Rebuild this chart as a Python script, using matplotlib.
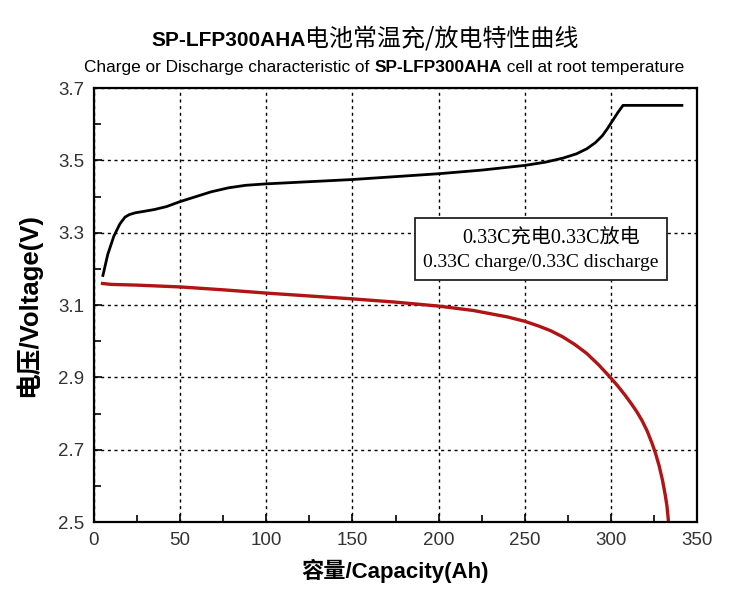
import matplotlib.pyplot as plt
from matplotlib.patches import Rectangle
from matplotlib.ticker import MultipleLocator

# charge curve (0.33C)
charge_cap = [5, 8, 11.5, 15, 18, 20.5, 24, 29, 35, 42, 50, 58, 68, 78, 88, 100,
              125, 150, 175, 200, 225, 250, 262, 272, 280, 286, 291, 295,
              298, 301, 304, 307, 342]
charge_v = [3.178, 3.24, 3.29, 3.324, 3.343, 3.350, 3.355, 3.359, 3.364,
            3.372, 3.386, 3.398, 3.413, 3.424, 3.431, 3.435, 3.441, 3.447,
            3.455, 3.463, 3.473, 3.486, 3.495, 3.506, 3.518, 3.532, 3.549,
            3.568, 3.588, 3.610, 3.632, 3.652, 3.652]

# discharge curve (0.33C)
discharge_cap = [4, 10, 25, 50, 75, 100, 125, 150, 175, 200, 220, 240, 250,
                 258, 265, 272, 279, 286, 293, 300, 304, 308, 312, 315, 318,
                 321, 324, 326, 328, 330, 331.5, 332.5, 333.5]
discharge_v = [3.160, 3.157, 3.155, 3.150, 3.142, 3.133, 3.125, 3.117, 3.108,
               3.097, 3.085, 3.067, 3.055, 3.042, 3.029, 3.012, 2.991, 2.966,
               2.934, 2.898, 2.876, 2.852, 2.826, 2.805, 2.781, 2.752, 2.716,
               2.688, 2.655, 2.614, 2.575, 2.545, 2.497]

x_ticks = [0, 50, 100, 150, 200, 250, 300, 350]
y_ticks = [2.5, 2.7, 2.9, 3.1, 3.3, 3.5, 3.7]

title_bold = "SP-LFP300AHA"
title_cn = "电池常温充/放电特性曲线"
sub_parts = ["Charge or Discharge characteristic of ", "SP-LFP300AHA", " cell at root temperature"]
note_cn = "0.33C充电0.33C放电"
note_en = "0.33C charge/0.33C discharge"

SANS = ['Liberation Sans', 'Noto Sans CJK SC']
SERIF = ['Liberation Serif', 'Noto Sans CJK SC']

fig = plt.figure(figsize=(7.4, 6.07), dpi=100)
ax = fig.add_axes([0.127, 0.140, 0.815, 0.715])

ax.plot(charge_cap, charge_v, color='black', lw=2.0, solid_capstyle='butt')
ax.plot(discharge_cap, discharge_v, color='#b01414', lw=2.4, solid_capstyle='butt')

ax.set_xlim(0, 350)
ax.set_ylim(2.5, 3.7)
ax.set_xticks(x_ticks)
ax.set_yticks(y_ticks)
ax.xaxis.set_minor_locator(MultipleLocator(25))
ax.yaxis.set_minor_locator(MultipleLocator(0.1))
ax.tick_params(which='both', direction='in', color='black', width=1.2)
ax.tick_params(which='major', length=6, labelsize=13.5, labelcolor='#333333', pad=7)
ax.tick_params(which='minor', length=5)
for lab in ax.get_xticklabels() + ax.get_yticklabels():
    lab.set_family('Liberation Sans')
ax.grid(True, which='major', color='black', lw=1.0, ls=(0, (2.2, 2.6)))
for s in ax.spines.values():
    s.set_linewidth(1.6)

ax.set_xlabel("容量/Capacity(Ah)", family=SANS, fontsize=16, fontweight='bold', labelpad=7)
ax.set_ylabel("电压/Voltage(V)", family=SANS, fontsize=18.5, fontweight='bold', labelpad=12)

# note box
ax.add_patch(Rectangle((0.532, 0.558), 0.418, 0.142, transform=ax.transAxes,
                       facecolor='white', edgecolor='#222222', lw=1.3, zorder=5))
ax.text(0.758, 0.655, note_cn, transform=ax.transAxes, family=SERIF, fontsize=14.5,
        ha='center', va='center', zorder=6)
ax.text(0.741, 0.598, note_en, transform=ax.transAxes, family=SERIF, fontsize=14,
        ha='center', va='center', zorder=6)


def rich_line(pieces, xc, y):
    # place text pieces side by side, centred on xc (figure fraction)
    texts = [fig.text(0, y, s, va='baseline', **kw) for s, kw in pieces]
    r = fig.canvas.get_renderer()
    W = fig.bbox.width
    widths = [t.get_window_extent(r).width for t in texts]
    x = xc * W - sum(widths) / 2
    for t, w in zip(texts, widths):
        t.set_x(x / W)
        x += w


rich_line([(title_bold, dict(family='Liberation Sans', fontsize=15, fontweight='bold')),
           (title_cn, dict(family='Noto Sans CJK SC', fontsize=17.3))], 0.493, 0.925)
rich_line([(sub_parts[0], dict(family='Liberation Sans', fontsize=12.4)),
           (sub_parts[1], dict(family='Liberation Sans', fontsize=12.4, fontweight='bold')),
           (sub_parts[2], dict(family='Liberation Sans', fontsize=12.4))], 0.519, 0.882)

fig.savefig("out.png", dpi=100)
